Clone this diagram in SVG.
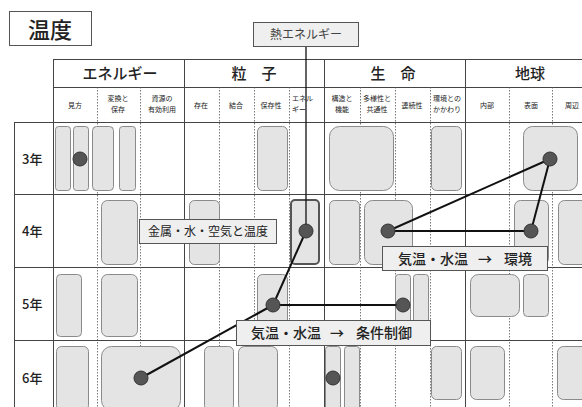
<svg xmlns="http://www.w3.org/2000/svg" width="582" height="407" viewBox="0 0 582 407">
<defs>
<style>
text{font-family:"Noto Sans CJK JP","Noto Sans",sans-serif;fill:#222}
.solid{stroke:#444;stroke-width:1;fill:none}
.dot{stroke:#555;stroke-width:0.8;stroke-dasharray:1.5 1.5;fill:none}
.cell{fill:#e4e4e4;stroke:#8a8a8a;stroke-width:1}
.hl{fill:#e4e4e4;stroke:#555;stroke-width:2}
.pt{fill:#555;stroke:#333;stroke-width:1}
.con{stroke:#111;stroke-width:2;fill:none}
.lab{fill:#efefef;stroke:#555;stroke-width:1}
.h1{font-size:15px;text-anchor:middle;font-weight:500}
.h2{font-size:7px;text-anchor:middle}
.row{font-size:13px;font-weight:500}
.big{font-size:14px;font-weight:500}
</style>
</defs>
<rect width="582" height="407" fill="#fff"/>
<g id="title">
<rect x="9.5" y="11.5" width="82" height="34" fill="#fff" stroke="#555"/>
<text x="50" y="38" font-size="22" font-weight="500" text-anchor="middle">温度</text>
</g>
<g id="grid">
<line class="solid" x1="53" y1="59.5" x2="582" y2="59.5"/>
<line class="solid" x1="53" y1="87.5" x2="582" y2="87.5"/>
<line class="solid" x1="14" y1="122.5" x2="582" y2="122.5"/>
<line class="solid" x1="14" y1="194.5" x2="582" y2="194.5"/>
<line class="solid" x1="14" y1="267.5" x2="582" y2="267.5"/>
<line class="solid" x1="14" y1="340.5" x2="582" y2="340.5"/>
<line class="solid" x1="14.5" y1="122" x2="14.5" y2="407"/>
<line class="solid" x1="53.5" y1="59" x2="53.5" y2="407"/>
<line class="solid" x1="184.5" y1="59" x2="184.5" y2="407"/>
<line class="solid" x1="324.5" y1="59" x2="324.5" y2="407"/>
<line class="solid" x1="465.5" y1="59" x2="465.5" y2="407"/>
<line class="dot" x1="97.5" y1="87" x2="97.5" y2="407"/>
<line class="dot" x1="140.5" y1="87" x2="140.5" y2="407"/>
<line class="dot" x1="219.5" y1="87" x2="219.5" y2="407"/>
<line class="dot" x1="254.5" y1="87" x2="254.5" y2="407"/>
<line class="dot" x1="289.5" y1="87" x2="289.5" y2="407"/>
<line class="dot" x1="360.5" y1="87" x2="360.5" y2="407"/>
<line class="dot" x1="395.5" y1="87" x2="395.5" y2="407"/>
<line class="dot" x1="430.5" y1="87" x2="430.5" y2="407"/>
<line class="dot" x1="509.5" y1="87" x2="509.5" y2="407"/>
<line class="dot" x1="552.5" y1="87" x2="552.5" y2="407"/>
</g>
<g id="headers">
<text class="h1" x="120" y="79">エネルギー</text>
<text class="h1" x="254" y="79">粒　子</text>
<text class="h1" x="393" y="79">生　命</text>
<text class="h1" x="530" y="79">地球</text>
<text class="h2" x="75" y="108">見方</text>
<text class="h2" x="118" y="101">変換と</text><text class="h2" x="118" y="112">保存</text>
<text class="h2" x="162" y="101">資源の</text><text class="h2" x="162" y="112">有効利用</text>
<text class="h2" x="201" y="108">存在</text>
<text class="h2" x="236" y="108">結合</text>
<text class="h2" x="271" y="108">保存性</text>
<text class="h2" x="292" y="101" style="text-anchor:start">エネル</text><text class="h2" x="292" y="112" style="text-anchor:start">ギー</text>
<text class="h2" x="342" y="101">構造と</text><text class="h2" x="342" y="112">機能</text>
<text class="h2" x="377" y="101">多様性と</text><text class="h2" x="377" y="112">共通性</text>
<text class="h2" x="412" y="108">連続性</text>
<text class="h2" x="447" y="101">環境との</text><text class="h2" x="447" y="112">かかわり</text>
<text class="h2" x="487" y="108">内部</text>
<text class="h2" x="531" y="108">表面</text>
<text class="h2" x="565" y="108" style="text-anchor:start">周辺</text>
<text class="row" x="22" y="164">3年</text>
<text class="row" x="22" y="236">4年</text>
<text class="row" x="22" y="309">5年</text>
<text class="row" x="22" y="383">6年</text>
</g>
<g id="cells">
<rect class="cell" x="55.5" y="126.5" width="15" height="64" rx="3"/>
<rect class="cell" x="73.5" y="126.5" width="15" height="64" rx="3"/>
<rect class="cell" x="92.5" y="126.5" width="21" height="64" rx="4"/>
<rect class="cell" x="119.5" y="126.5" width="16" height="64" rx="3"/>
<rect class="cell" x="257.5" y="126.5" width="30" height="64" rx="5"/>
<rect class="cell" x="329.5" y="126.5" width="64" height="64" rx="10"/>
<rect class="cell" x="431.5" y="126.5" width="30" height="64" rx="5"/>
<rect class="cell" x="523.5" y="126.5" width="54" height="64" rx="9"/>
<rect class="cell" x="101.5" y="200.5" width="36" height="64" rx="6"/>
<rect class="cell" x="189.5" y="200.5" width="30" height="64" rx="5"/>
<rect class="hl" x="291" y="200" width="28" height="64" rx="4"/>
<rect class="cell" x="329.5" y="200.5" width="30" height="64" rx="5"/>
<rect class="cell" x="364.5" y="200.5" width="48" height="64" rx="8"/>
<rect class="cell" x="514.5" y="200.5" width="34" height="64" rx="6"/>
<rect class="cell" x="558.5" y="200.5" width="40" height="64" rx="6"/>
<rect class="cell" x="56.5" y="274.5" width="25" height="62" rx="4"/>
<rect class="cell" x="101.5" y="274.5" width="36" height="62" rx="6"/>
<rect class="cell" x="257.5" y="274.5" width="30" height="62" rx="5"/>
<rect class="cell" x="395.5" y="274.5" width="15" height="62" rx="3"/>
<rect class="cell" x="413.5" y="274.5" width="15" height="62" rx="3"/>
<rect class="cell" x="470.5" y="274.5" width="49" height="42" rx="8"/>
<rect class="cell" x="523.5" y="274.5" width="25" height="42" rx="4"/>
<rect class="cell" x="56.5" y="346.5" width="32" height="64" rx="5"/>
<rect class="cell" x="101.5" y="346.5" width="79" height="64" rx="10"/>
<rect class="cell" x="204.5" y="346.5" width="29" height="64" rx="5"/>
<rect class="cell" x="238.5" y="346.5" width="39" height="64" rx="6"/>
<rect class="cell" x="325.5" y="346.5" width="15" height="64" rx="3"/>
<rect class="cell" x="344.5" y="346.5" width="15" height="64" rx="3"/>
<rect class="cell" x="431.5" y="346.5" width="30" height="53" rx="5"/>
<rect class="cell" x="470.5" y="346.5" width="34" height="53" rx="6"/>
<rect class="cell" x="557.5" y="346.5" width="40" height="53" rx="6"/>
</g>
<g id="connectors">
<line class="con" x1="306" y1="47" x2="306" y2="231" style="stroke-width:1.3"/>
<line class="con" x1="306" y1="231" x2="273" y2="305"/>
<line class="con" x1="273" y1="305" x2="141" y2="378"/>
<line class="con" x1="273" y1="305" x2="403" y2="305"/>
<line class="con" x1="388" y1="231" x2="550" y2="159"/>
<line class="con" x1="388" y1="231" x2="531" y2="231"/>
<line class="con" x1="531" y1="231" x2="550" y2="159"/>
</g>
<g id="points">
<circle class="pt" cx="80" cy="159" r="7"/>
<circle class="pt" cx="550" cy="159" r="7"/>
<circle class="pt" cx="306" cy="231" r="7"/>
<circle class="pt" cx="388" cy="231" r="7"/>
<circle class="pt" cx="531" cy="231" r="7"/>
<circle class="pt" cx="273" cy="305" r="7"/>
<circle class="pt" cx="403" cy="305" r="7"/>
<circle class="pt" cx="141" cy="378" r="7"/>
<circle class="pt" cx="333" cy="378" r="7"/>
</g>
<g id="label-heat">
<rect class="lab" x="253.5" y="22.5" width="105" height="24"/>
<text x="306" y="39" font-size="12" text-anchor="middle" style="fill:#444">熱エネルギー</text>
</g>
<g id="label-metal">
<rect class="lab" x="139.5" y="219.5" width="137" height="24"/>
<text x="208" y="236" font-size="12" text-anchor="middle">金属・水・空気と温度</text>
</g>
<g id="label-env">
<rect class="lab" x="382.5" y="246.5" width="165" height="24"/>
<text class="big" y="264"><tspan x="398">気温・水温</tspan><tspan x="478">→</tspan><tspan x="504">環境</tspan></text>
</g>
<g id="label-cond">
<rect class="lab" x="236.5" y="320.5" width="194" height="25"/>
<text class="big" y="338"><tspan x="251">気温・水温</tspan><tspan x="330">→</tspan><tspan x="356">条件制御</tspan></text>
</g>
</svg>
